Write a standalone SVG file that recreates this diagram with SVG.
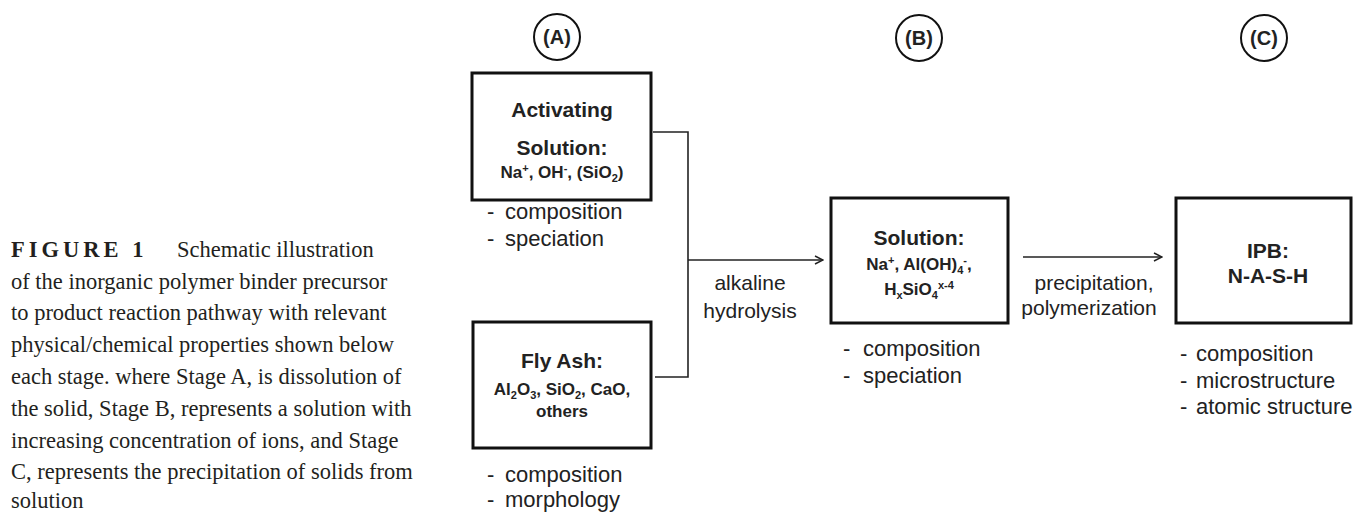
<svg xmlns="http://www.w3.org/2000/svg" width="1353" height="513" viewBox="0 0 1353 513">
<style>
.cap{font-family:"Liberation Serif","Times New Roman",serif;font-size:22.5px;fill:#231f20}
.capb{font-family:"Liberation Serif","Times New Roman",serif;font-size:22.5px;font-weight:bold;letter-spacing:4px;fill:#231f20}
.t{font-family:"Liberation Sans",Arial,sans-serif;fill:#222}
.h{font-size:21px;font-weight:bold;text-anchor:middle}
.s{font-size:17px;font-weight:bold;text-anchor:middle}
.l{font-size:22px}
.lab{font-size:21px;text-anchor:middle}
.box{fill:none;stroke:#111;stroke-width:3}
.circ{fill:none;stroke:#111;stroke-width:2}
.con{fill:none;stroke:#222;stroke-width:1.6}
</style>
<defs>
<marker id="arr" viewBox="0 0 10 10" refX="9" refY="5" markerWidth="10" markerHeight="10" markerUnits="userSpaceOnUse" orient="auto">
<path d="M1,1 L9,5 L1,9" fill="none" stroke="#222" stroke-width="1.5"/>
</marker>
</defs>
<rect width="1353" height="513" fill="#fff"/>
<g id="caption">
<text class="capb" x="11" y="257">FIGURE 1</text>
<text class="cap" x="177" y="257">Schematic illustration</text>
<text class="cap" x="11" y="289">of the inorganic polymer binder precursor</text>
<text class="cap" x="11" y="320">to product reaction pathway with relevant</text>
<text class="cap" x="11" y="352">physical/chemical properties shown below</text>
<text class="cap" x="11" y="384">each stage. where Stage A, is dissolution of</text>
<text class="cap" x="11" y="416">the solid, Stage B, represents a solution with</text>
<text class="cap" x="11" y="448">increasing concentration of ions, and Stage</text>
<text class="cap" x="11" y="479">C, represents the precipitation of solids from</text>
<text class="cap" x="11" y="508">solution</text>
</g>
<g id="labelA"><circle class="circ" cx="557" cy="37" r="23"/><text class="t" x="557" y="44" font-size="20" font-weight="bold" text-anchor="middle">(A)</text></g>
<g id="labelB"><circle class="circ" cx="919" cy="38" r="23"/><text class="t" x="919" y="45" font-size="20" font-weight="bold" text-anchor="middle">(B)</text></g>
<g id="labelC"><circle class="circ" cx="1264" cy="38" r="23"/><text class="t" x="1264" y="45" font-size="20" font-weight="bold" text-anchor="middle">(C)</text></g>
<g id="activating">
<rect class="box" x="472" y="73" width="179" height="127"/>
<text class="t h" x="562" y="117">Activating</text>
<text class="t h" x="562" y="155">Solution:</text>
<text class="t s" x="562" y="178">Na<tspan font-size="11" dy="-6">+</tspan><tspan dy="6">, OH</tspan><tspan font-size="11" dy="-6">-</tspan><tspan dy="6">, (SiO</tspan><tspan font-size="11" dy="4">2</tspan><tspan dy="-4">)</tspan></text>
<text class="t l" x="487" y="219">-</text><text class="t l" x="505" y="219">composition</text>
<text class="t l" x="487" y="246">-</text><text class="t l" x="505" y="246">speciation</text>
</g>
<g id="flyash">
<rect class="box" x="473" y="322" width="178" height="126"/>
<text class="t h" x="562" y="368">Fly Ash:</text>
<text class="t s" x="562" y="395">Al<tspan font-size="11" dy="4">2</tspan><tspan dy="-4">O</tspan><tspan font-size="11" dy="4">3</tspan><tspan dy="-4">, SiO</tspan><tspan font-size="11" dy="4">2</tspan><tspan dy="-4">, CaO,</tspan></text>
<text class="t s" x="562" y="417">others</text>
<text class="t l" x="487" y="482">-</text><text class="t l" x="505" y="482">composition</text>
<text class="t l" x="487" y="507">-</text><text class="t l" x="505" y="507">morphology</text>
</g>
<g id="solution">
<rect class="box" x="831" y="198" width="177" height="125"/>
<text class="t h" x="919" y="245">Solution:</text>
<text class="t s" x="919" y="270">Na<tspan font-size="11" dy="-6">+</tspan><tspan dy="6">, Al(OH)</tspan><tspan font-size="11" dy="4">4</tspan><tspan font-size="11" dy="-10">-</tspan><tspan dy="6">,</tspan></text>
<text class="t s" x="919" y="295">H<tspan font-size="11" dy="4">x</tspan><tspan dy="-4">SiO</tspan><tspan font-size="11" dy="4">4</tspan><tspan font-size="11" dy="-10">x-4</tspan></text>
<text class="t l" x="843" y="356">-</text><text class="t l" x="863" y="356">composition</text>
<text class="t l" x="843" y="383">-</text><text class="t l" x="863" y="383">speciation</text>
</g>
<g id="ipb">
<rect class="box" x="1176" y="198" width="175" height="125"/>
<text class="t h" x="1268" y="258" font-size="19">IPB:</text>
<text class="t h" x="1268" y="283" font-size="19">N-A-S-H</text>
<text class="t l" x="1180" y="361">-</text><text class="t l" x="1196" y="361">composition</text>
<text class="t l" x="1180" y="388">-</text><text class="t l" x="1196" y="388">microstructure</text>
<text class="t l" x="1180" y="414">-</text><text class="t l" x="1196" y="414">atomic structure</text>
</g>
<g id="connectors">
<path class="con" d="M653,132 H688 V377 H655"/>
<path class="con" d="M688,260 H823" marker-end="url(#arr)"/>
<path class="con" d="M1023,257 H1162" marker-end="url(#arr)"/>
<text class="t lab" x="750" y="290">alkaline</text>
<text class="t lab" x="750" y="318">hydrolysis</text>
<text class="t lab" x="1094" y="290">precipitation,</text>
<text class="t lab" x="1089" y="315">polymerization</text>
</g>
</svg>
